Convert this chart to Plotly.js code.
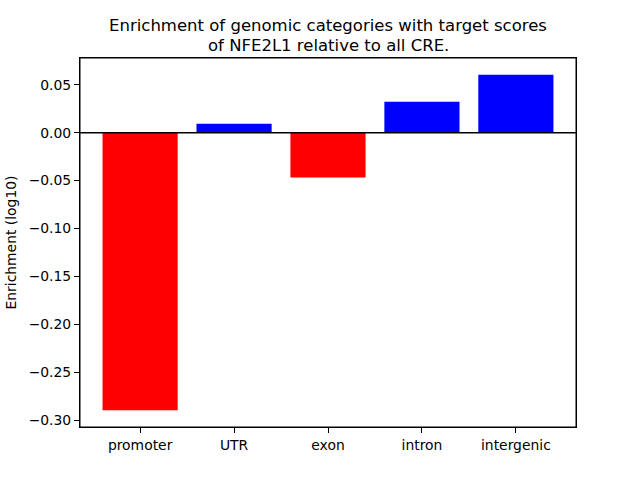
<!DOCTYPE html>
<html>
<head>
<script src="https://cdn.plot.ly/plotly-3.0.1.min.js"></script>
<style>html,body{margin:0;padding:0;background:#fff;}</style>
</head>
<body>
<div id="chart" style="width:640px;height:480px;"></div>
<script>
const categories = ["promoter", "UTR", "exon", "intron", "intergenic"];
const enrichment = [-0.2896, 0.0094, -0.0469, 0.0323, 0.0604];
const titleLines = ["Enrichment of genomic categories with target scores", "of NFE2L1 relative to all CRE."];
const barColors = enrichment.map(v => v < 0 ? "red" : "blue");
const xIdx = categories.map((c, i) => i);

const trace = {
  type: "bar",
  x: xIdx,
  y: enrichment,
  width: 0.8,
  marker: {color: barColors, line: {width: 0}},
  hoverinfo: "skip"
};

const fam = "DejaVu Sans, sans-serif";

const layout = {
  width: 640, height: 480,
  margin: {l: 80, r: 64, t: 58, b: 53},
  paper_bgcolor: "#fff", plot_bgcolor: "#fff",
  font: {family: fam, color: "#000"},
  showlegend: false,
  title: {
    text: titleLines[0],
    font: {family: fam, size: 16.5, color: "#000"},
    x: 0.5, xref: "paper", xanchor: "center",
    y: 1 - 25.5 / 480, yref: "container", yanchor: "middle"
  },
  annotations: [{
    text: titleLines[1], showarrow: false,
    xref: "paper", x: 0.5, xanchor: "center",
    yref: "paper", y: 1, yanchor: "middle", yshift: 13,
    font: {family: fam, size: 16.5, color: "#000"}
  }],
  xaxis: {
    range: [-0.64, 4.64],
    tickmode: "array",
    tickvals: xIdx,
    ticktext: categories,
    ticks: "outside", ticklen: 5, tickwidth: 1, tickcolor: "#000",
    showline: true, mirror: true, linecolor: "#000", linewidth: 1,
    showgrid: false, zeroline: false,
    tickfont: {family: fam, size: 13.9, color: "#000"}
  },
  yaxis: {
    range: [-0.3071, 0.0779],
    dtick: 0.05, tick0: 0,
    tickformat: ".2f",
    ticks: "outside", ticklen: 5, tickwidth: 1, tickcolor: "#000",
    showline: true, mirror: true, linecolor: "#000", linewidth: 1,
    showgrid: false, zeroline: false,
    tickfont: {family: fam, size: 13.9, color: "#000"},
    title: {text: "Enrichment (log10)", font: {family: fam, size: 13.9, color: "#000"}, standoff: 8}
  },
  shapes: [
    {type: "line", xref: "paper", x0: 0, x1: 1, yref: "y", y0: 0, y1: 0,
     line: {color: "#000", width: 1.5}},
    {type: "rect", xref: "paper", x0: 0, x1: 1, yref: "paper", y0: 0, y1: 1,
     line: {color: "#000", width: 1}, fillcolor: "rgba(0,0,0,0)"}
  ]
};

Plotly.newPlot("chart", [trace], layout, {staticPlot: true, displayModeBar: false});
</script>
</body>
</html>
